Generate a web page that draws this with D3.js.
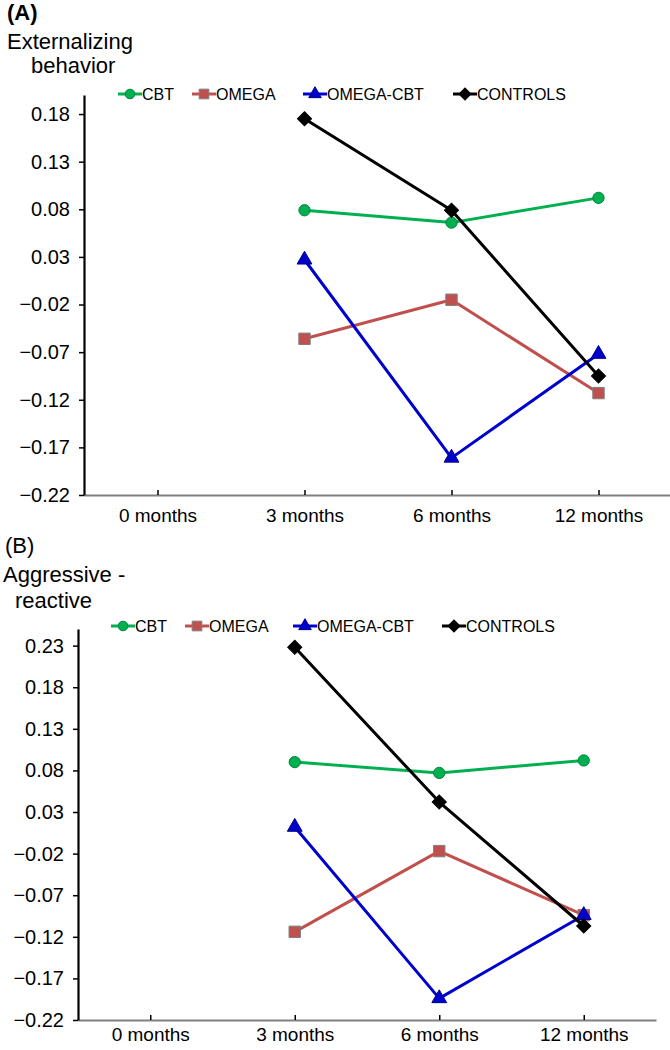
<!DOCTYPE html>
<html>
<head>
<meta charset="utf-8">
<script src="https://cdn.jsdelivr.net/npm/d3@7/dist/d3.min.js"></script>
<style>
  html, body { margin: 0; padding: 0; background: #fff; }
  svg { display: block; }
  text { font-family: "Liberation Sans", Arial, sans-serif; fill: #000; }
</style>
</head>
<body>
<svg id="chart" width="670" height="1050"></svg>
<script>
// ---------- data ----------
const months = ["0 months", "3 months", "6 months", "12 months"];
const seriesNames = ["CBT", "OMEGA", "OMEGA-CBT", "CONTROLS"];

// Panel A: Externalizing behavior
const extCBT       = [null, 0.079, 0.066, 0.092];
const extOMEGA     = [null, -0.056, -0.015, -0.113];
const extOMEGACBT  = [null, 0.027, -0.181, -0.072];
const extCONTROLS  = [null, 0.175, 0.079, -0.095];
const yTicksA = [-0.22, -0.17, -0.12, -0.07, -0.02, 0.03, 0.08, 0.13, 0.18];

// Panel B: Aggressive - reactive
const aggCBT       = [null, 0.090, 0.077, 0.092];
const aggOMEGA     = [null, -0.114, -0.017, -0.094];
const aggOMEGACBT  = [null, 0.012, -0.194, -0.094];
const aggCONTROLS  = [null, 0.228, 0.042, -0.107];
const yTicksB = [-0.22, -0.17, -0.12, -0.07, -0.02, 0.03, 0.08, 0.13, 0.18, 0.23];

// ---------- styles ----------
const styles = {
  "CBT":       { line: "#00b050", fill: "#00b050", stroke: "#00843c", shape: "circle" },
  "OMEGA":     { line: "#c0504d", fill: "#c0504d", stroke: "#7f7f7f", shape: "square" },
  "OMEGA-CBT": { line: "#0000cc", fill: "#0000cc", stroke: "#00008b", shape: "triangle" },
  "CONTROLS":  { line: "#000000", fill: "#000000", stroke: "#000000", shape: "diamond" }
};

const svg = d3.select("#chart");

function markerPath(shape, scale) {
  scale = scale || 1;
  if (shape === "circle") return d3.symbol().type(d3.symbolCircle).size(100 * scale * scale)();
  if (shape === "square") return d3.symbol().type(d3.symbolSquare).size(130 * scale * scale)();
  if (shape === "triangle") return d3.symbol().type(d3.symbolTriangle).size(95 * scale * scale)();
  return d3.symbol().type(d3.symbolSquare).size(100 * scale * scale)();
}

function drawPanel(cfg) {
  const g = svg.append("g");
  const x = d3.scalePoint().domain(months).range([cfg.x0, cfg.x1]).padding(0.5);
  const y = d3.scaleLinear().domain([cfg.yMin, cfg.yMax]).range([cfg.yBottom, cfg.yTop]);

  // titles
  cfg.titles.forEach(t => {
    g.append("text").attr("x", t.x).attr("y", t.y)
      .style("font-size", t.size + "px")
      .style("font-weight", t.bold ? "bold" : "normal")
      .text(t.text);
  });

  // x axis
  const xAxis = g.append("g").attr("transform", `translate(0,${cfg.yBottom})`)
    .call(d3.axisBottom(x).tickSizeInner(-5).tickSizeOuter(0).tickPadding(cfg.xPad));
  xAxis.select(".domain").attr("stroke", "#808080").attr("stroke-width", 2.2);
  xAxis.selectAll(".tick line").attr("stroke", "#000").attr("stroke-width", 1.5);
  xAxis.selectAll(".tick text").style("font-size", "19px")
    .style("font-family", '"Liberation Sans", Arial, sans-serif').attr("fill", "#000");

  // y axis
  const yAxis = g.append("g").attr("transform", `translate(${cfg.x0},0)`)
    .call(d3.axisLeft(y).tickValues(cfg.ticks).tickFormat(d3.format(".2f"))
      .tickSizeInner(5).tickSizeOuter(0).tickPadding(9));
  yAxis.select(".domain").attr("stroke", "#000").attr("stroke-width", 2.2);
  yAxis.selectAll(".tick line").attr("stroke", "#000").attr("stroke-width", 1.5);
  yAxis.selectAll(".tick text").style("font-size", "20px")
    .style("font-family", '"Liberation Sans", Arial, sans-serif').attr("fill", "#000");

  // series
  cfg.series.forEach((vals, i) => {
    const name = seriesNames[i];
    const st = styles[name];
    const pts = vals.map((v, j) => ({ m: months[j], v })).filter(d => d.v !== null);
    g.append("path").datum(pts)
      .attr("fill", "none").attr("stroke", st.line).attr("stroke-width", 3)
      .attr("stroke-linejoin", "round")
      .attr("d", d3.line().x(d => x(d.m)).y(d => y(d.v)));
    g.selectAll(null).data(pts).enter().append("path")
      .attr("d", markerPath(st.shape))
      .attr("transform", d => `translate(${x(d.m)},${y(d.v)})` + (st.shape === "diamond" ? " rotate(45)" : ""))
      .attr("fill", st.fill).attr("stroke", st.stroke).attr("stroke-width", 1);
  });

  // legend
  const lg = g.append("g").attr("transform", `translate(0,${cfg.legendY})`);
  seriesNames.forEach((name, i) => {
    const st = styles[name];
    const lx = cfg.legendX[i];
    const item = lg.append("g").attr("transform", `translate(${lx},0)`);
    item.append("line").attr("x1", 0).attr("x2", 24).attr("y1", 0).attr("y2", 0)
      .attr("stroke", st.line).attr("stroke-width", 3);
    item.append("path").attr("d", markerPath(st.shape, 0.85))
      .attr("transform", `translate(12,0)` + (st.shape === "diamond" ? " rotate(45)" : ""))
      .attr("fill", st.fill).attr("stroke", st.stroke).attr("stroke-width", 1);
    item.append("text").attr("x", 24).attr("y", 0).attr("dy", "0.36em")
      .style("font-size", "16px").text(name);
  });
}

drawPanel({
  x0: 84, x1: 672, yTop: 95, yBottom: 495, yMin: -0.22, yMax: 0.2,
  ticks: yTicksA, xPad: 14,
  series: [extCBT, extOMEGA, extOMEGACBT, extCONTROLS],
  legendY: 94, legendX: [118, 192, 303, 453],
  titles: [
    { text: "(A)", x: 7, y: 20, size: 22, bold: true },
    { text: "Externalizing", x: 7, y: 49, size: 22 },
    { text: "behavior", x: 31, y: 73, size: 22 }
  ]
});

drawPanel({
  x0: 78, x1: 656, yTop: 629, yBottom: 1020, yMin: -0.22, yMax: 0.25,
  ticks: yTicksB, xPad: 8,
  series: [aggCBT, aggOMEGA, aggOMEGACBT, aggCONTROLS],
  legendY: 626, legendX: [111, 185, 293, 442],
  titles: [
    { text: "(B)", x: 5, y: 553, size: 22, bold: false },
    { text: "Aggressive -", x: 3, y: 582, size: 22 },
    { text: "reactive", x: 15, y: 608, size: 22 }
  ]
});
</script>
</body>
</html>
